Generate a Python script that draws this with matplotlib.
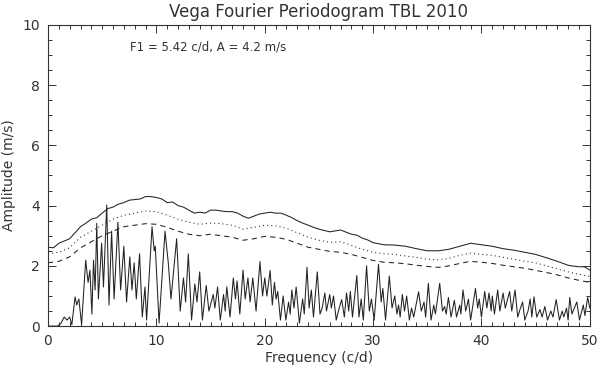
import matplotlib
matplotlib.use("Agg")
import matplotlib.pyplot as plt
from matplotlib.ticker import MultipleLocator

freq = [0.0, 0.9, 1.2, 1.5, 1.75, 2.0, 2.2, 2.5, 2.65, 2.85, 3.1, 3.48, 3.7, 3.87, 4.05,
        4.2, 4.35, 4.5, 4.65, 4.95, 5.12, 5.42, 5.63, 5.87, 6.1, 6.45, 6.7, 7.0, 7.25,
        7.55, 7.75, 7.95, 8.15, 8.45, 8.7, 8.95, 9.1, 9.6, 9.8, 9.9, 10.25, 10.8, 11.1,
        11.35, 11.87, 12.2, 12.5, 12.7, 12.95, 13.25, 13.55, 13.75, 14.0, 14.25, 14.6,
        14.85, 15.25, 15.4, 15.65, 15.9, 16.2, 16.35, 16.5, 16.8, 17.1, 17.3, 17.45, 17.7,
        18.0, 18.2, 18.45, 18.65, 18.9, 19.2, 19.56, 19.8, 20.0, 20.2, 20.5, 20.7, 20.9,
        21.05, 21.2, 21.45, 21.7, 21.95, 22.2, 22.35, 22.5, 22.7, 22.9, 23.2, 23.5, 23.65,
        23.9, 24.1, 24.3, 24.5, 24.85, 25.1, 25.3, 25.55, 25.7, 26.0, 26.15, 26.35, 26.6,
        26.8, 27.1, 27.35, 27.55, 27.75, 27.9, 28.1, 28.5, 28.7, 28.9, 29.1, 29.4, 29.65,
        29.85, 30.1, 30.5, 30.75, 30.9, 31.15, 31.5, 31.75, 32.0, 32.2, 32.35, 32.5, 32.7,
        32.9, 33.1, 33.35, 33.55, 33.75, 34.2, 34.45, 34.7, 34.85, 35.1, 35.35, 35.6, 35.75,
        36.15, 36.4, 36.6, 36.75, 36.95, 37.2, 37.5, 37.7, 38.0, 38.1, 38.3, 38.55, 38.8,
        39.0, 39.45, 39.65, 39.8, 40.0, 40.3, 40.5, 40.7, 40.9, 41.0, 41.2, 41.5, 41.7,
        42.0, 42.2, 42.6, 42.8, 43.1, 43.35, 43.6, 43.8, 44.0, 44.3, 44.5, 44.65, 44.85,
        45.1, 45.4, 45.6, 45.85, 46.1, 46.4, 46.6, 46.9, 47.2, 47.45, 47.6, 47.85, 48.0,
        48.15, 48.35, 48.8, 49.05, 49.4, 49.55, 49.8, 50.0]
amp = [0.0, 0.0, 0.1, 0.3, 0.2, 0.3, 0.05, 0.97, 0.7, 0.9, 0.05, 2.19, 1.45, 1.86, 0.4,
       2.19, 1.2, 3.41, 0.9, 2.75, 1.3, 4.02, 0.7, 3.15, 0.9, 3.45, 1.2, 2.65, 0.8,
       2.3, 1.2, 2.1, 0.9, 2.4, 0.3, 1.3, 0.2, 3.3, 2.5, 2.65, 0.1, 3.15, 2.1,
       0.9, 2.9, 0.5, 1.6, 0.8, 2.4, 0.2, 1.4, 0.8, 1.8, 0.2, 1.35,
       0.5, 1.05, 0.6, 1.3, 0.2, 1.05, 0.5, 1.3, 0.3, 1.6, 0.9, 1.5, 0.4,
       1.86, 0.9, 1.6, 0.8, 1.6, 0.5, 2.14, 1.0, 1.6, 1.0, 1.85, 0.7, 1.45,
       0.9, 1.15, 0.2, 1.0, 0.2, 0.8, 0.4, 1.2, 0.6, 1.3, 0.1, 0.9, 0.4,
       1.95, 0.6, 1.2, 0.3, 1.8, 0.4, 0.6, 1.1, 0.5, 1.05, 0.6, 1.0, 0.2,
       0.5, 0.88, 0.3, 1.1, 0.5, 1.15, 0.3, 1.68, 0.3, 0.9, 0.2, 2.0, 0.5,
       0.9, 0.2, 2.05, 0.8, 1.25, 0.2, 1.66, 0.6, 1.0, 0.4, 0.7, 0.3, 1.05,
       0.5, 1.0, 0.2, 0.6, 0.3, 1.14, 0.5, 0.8, 0.3, 1.42, 0.2, 0.7, 0.4,
       1.42, 0.5, 0.65, 0.4, 0.95, 0.3, 0.86, 0.3, 0.7, 0.4, 1.2, 0.5, 0.9,
       0.2, 1.25, 0.6, 0.9, 0.3, 1.15, 0.6, 1.1, 0.5, 1.0, 0.4, 1.2, 0.5,
       1.1, 0.6, 1.15, 0.5, 1.2, 0.3, 0.6, 0.8, 0.2, 0.5, 0.9, 0.3, 0.97,
       0.3, 0.55, 0.3, 0.65, 0.2, 0.5, 0.3, 0.88, 0.2, 0.5, 0.3, 0.6, 0.2,
       0.95, 0.4, 0.8, 0.2, 0.7, 0.35, 0.95, 0.6]

# significance levels
lev_f = [0, 0.5, 1, 2, 3, 3.5, 4, 4.5, 5, 5.5, 6, 6.5, 7, 7.5, 8, 8.5, 9, 9.5, 10, 10.5,
         11, 11.5, 12, 12.5, 13, 13.5, 14, 14.5, 15, 15.5, 16, 16.5, 17, 17.5, 18, 18.5,
         19, 19.5, 20, 20.5, 21, 21.5, 22, 22.5, 23, 23.5, 24, 24.5, 25, 26, 27, 28, 28.5,
         29, 29.5, 30, 31, 32, 33, 34, 35, 36, 37, 38, 39, 40, 41, 42, 43, 44, 45, 46, 47,
         48, 48.5, 49, 49.5, 50]
solid = [2.62, 2.6, 2.75, 2.9, 3.3, 3.42, 3.55, 3.6, 3.75, 3.9, 3.95, 4.05, 4.1, 4.18, 4.2,
         4.22, 4.3, 4.3, 4.27, 4.22, 4.1, 4.12, 4.0, 3.95, 3.85, 3.75, 3.78, 3.75, 3.85,
         3.85, 3.82, 3.8, 3.8, 3.75, 3.65, 3.58, 3.65, 3.72, 3.75, 3.78, 3.75, 3.75, 3.68,
         3.6, 3.5, 3.42, 3.35, 3.28, 3.22, 3.13, 3.19, 3.05, 3.02, 2.92, 2.86, 2.77, 2.7,
         2.69, 2.65, 2.57, 2.5, 2.5, 2.55, 2.65, 2.75, 2.7, 2.65, 2.57, 2.52, 2.45, 2.38,
         2.27, 2.15, 2.02, 1.99, 1.97, 1.97, 1.86]

lev_d = [0, 1, 2, 3, 4, 5, 6, 7, 8, 9, 10, 11, 12, 13, 14, 15, 16, 17, 18, 19, 20, 21, 22,
         23, 24, 25, 26, 27, 28, 29, 30, 31, 32, 33, 34, 35, 36, 37, 38, 39, 40, 41, 42,
         43, 44, 45, 46, 47, 48, 49, 50]
dotted = [2.4, 2.45, 2.6, 2.95, 3.15, 3.35, 3.55, 3.68, 3.75, 3.82, 3.8, 3.68, 3.55, 3.45,
          3.38, 3.42, 3.4, 3.35, 3.22, 3.28, 3.35, 3.33, 3.25, 3.1, 2.95, 2.85, 2.78, 2.8,
          2.68, 2.55, 2.45, 2.4, 2.38, 2.33, 2.28, 2.22, 2.2, 2.25, 2.35, 2.42, 2.38, 2.35,
          2.28, 2.22, 2.15, 2.1, 2.0, 1.9, 1.8, 1.72, 1.65]
dashed = [2.1, 2.15, 2.3, 2.6, 2.8, 3.0, 3.15, 3.3, 3.35, 3.4, 3.38, 3.28, 3.15, 3.05,
          3.0, 3.05, 3.0, 2.95, 2.85, 2.9, 2.98, 2.95, 2.88, 2.75, 2.62, 2.55, 2.48, 2.45,
          2.38, 2.28, 2.18, 2.12, 2.1, 2.07, 2.02, 1.98, 1.95, 2.0, 2.08, 2.15, 2.12, 2.08,
          2.02, 1.97, 1.92, 1.85, 1.78, 1.7, 1.6, 1.52, 1.45]

fig = plt.figure(figsize=(6, 3.71), dpi=100)
ax = fig.add_axes([0.08, 0.121, 0.903, 0.812])

ax.plot(freq, amp, color='#222222', lw=0.75)
ax.plot(lev_f, solid, color='#222222', lw=0.75)
ax.plot(lev_d, dotted, color='#222222', lw=0.75, linestyle=(0, (1, 3)))
ax.plot(lev_d, dashed, color='#222222', lw=0.75, linestyle=(0, (5, 4)))

ax.set_xlim(0, 50)
ax.set_ylim(0, 10)
ax.xaxis.set_major_locator(MultipleLocator(10))
ax.xaxis.set_minor_locator(MultipleLocator(1))
ax.yaxis.set_major_locator(MultipleLocator(2))
ax.yaxis.set_minor_locator(MultipleLocator(0.5))
ax.tick_params(which='both', direction='in', top=True, right=True, colors='#333333',
               labelsize=10, width=0.7)
ax.tick_params(which='major', length=6, pad=6)
ax.tick_params(which='minor', length=3)
for s in ax.spines.values():
    s.set_linewidth(0.8)
    s.set_color('#333333')

ax.set_title("Vega Fourier Periodogram TBL 2010", fontsize=12, color='#333333', pad=6)
ax.set_xlabel("Frequency (c/d)", fontsize=10, color='#333333', labelpad=2)
ax.set_ylabel("Amplitude (m/s)", fontsize=10, color='#333333', labelpad=4)
ax.text(7.6, 9.27, "F1 = 5.42 c/d, A = 4.2 m/s", fontsize=8.5, color='#333333',
        va='center', ha='left')

fig.savefig("out.png", dpi=100)
